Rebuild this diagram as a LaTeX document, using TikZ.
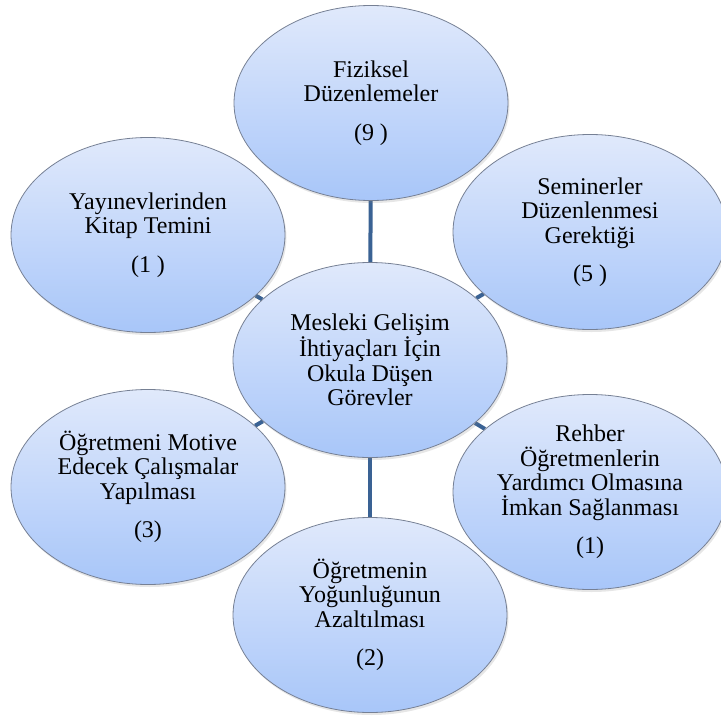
\documentclass[tikz,border=0pt]{standalone}
\usepackage{fontspec}
\setmainfont{Liberation Serif}
\usetikzlibrary{shapes.geometric,shadows,backgrounds}
\definecolor{bubtop}{RGB}{224,233,251}
\definecolor{bubbot}{RGB}{168,198,249}
\definecolor{bubline}{RGB}{118,128,148}
\definecolor{linkcol}{RGB}{58,98,148}
\tikzset{
  bub/.style={ellipse, draw=bubline, line width=0.8pt,
    top color=bubtop, bottom color=bubbot,
    minimum width=274pt, minimum height=195pt, inner sep=0pt,
    align=center, font=\fontsize{24}{24.5}\selectfont,
    drop shadow={opacity=0.2, shadow xshift=1.5pt, shadow yshift=-2.5pt}},
  link/.style={draw=linkcol, line width=4pt}
}
\begin{document}
\begin{tikzpicture}[x=1pt,y=1pt]
  \useasboundingbox (0,0) rectangle (721,-718);
  % outer topics
  \node[bub] (fiz) at (371,-103) {Fiziksel\\Düzenlemeler\\[14pt](9 )};
  \node[bub] (yay) at (148,-235) {Yayınevlerinden\\Kitap Temini\\[14pt](1 )};
  \node[bub] (sem) at (590,-232) {Seminerler\\Düzenlenmesi\\Gerektiği\\[14pt](5 )};
  \node[bub] (mot) at (148,-487) {Öğretmeni Motive\\Edecek Çalışmalar\\Yapılması\\[14pt](3)};
  \node[bub] (reh) at (590,-492) {Rehber\\Öğretmenlerin\\Yardımcı Olmasına\\İmkan Sağlanması\\[14pt](1)};
  \node[bub] (yog) at (370,-615) {Öğretmenin\\Yoğunluğunun\\Azaltılması\\[14pt](2)};
  % central topic
  \node[bub] (mer) at (370,-360) {Mesleki Gelişim\\İhtiyaçları İçin\\Okula Düşen\\Görevler};
  % links behind the bubbles
  \begin{pgfonlayer}{background}
    \draw[link] (mer) -- (fiz);
    \draw[link] (mer) -- (yay);
    \draw[link] (mer) -- (sem);
    \draw[link] (mer) -- (mot);
    \draw[link] (mer) -- (reh);
    \draw[link] (mer) -- (yog);
  \end{pgfonlayer}
\end{tikzpicture}
\end{document}
